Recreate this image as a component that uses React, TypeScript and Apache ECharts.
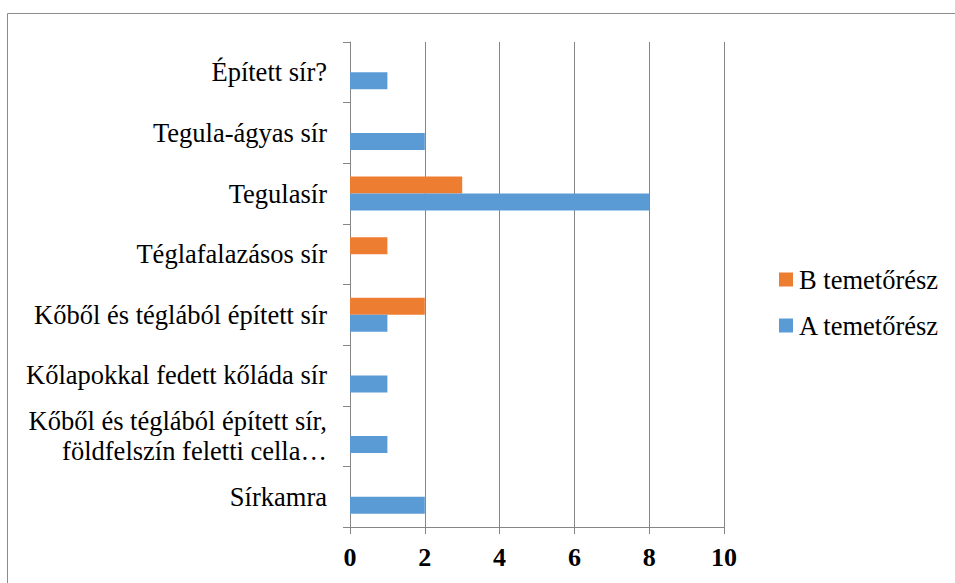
import React, { useEffect, useRef } from "react";
import * as echarts from "echarts";

const categories = [
  "Sírkamra",
  "Kőből és téglából épített sír,\nföldfelszín feletti cella…",
  "Kőlapokkal fedett kőláda sír",
  "Kőből és téglából épített sír",
  "Téglafalazásos sír",
  "Tegulasír",
  "Tegula-ágyas sír",
  "Épített sír?",
];
const seriesBName = "B temetőrész";
const seriesAName = "A temetőrész";
const valuesB = [0, 0, 0, 2, 1, 3, 0, 0];
const valuesA = [2, 1, 1, 1, 0, 8, 2, 1];
const xMin = 0;
const xMax = 10;
const xInterval = 2;

export default function App() {
  const ref = useRef<HTMLDivElement>(null);
  useEffect(() => {
    if (!ref.current) return;
    const chart = echarts.init(ref.current, null, { renderer: "svg" });
    const font = "Liberation Serif";
    const toNull = (arr: number[]) => arr.map((v) => (v === 0 ? null : v));
    chart.setOption({
      animation: false,
      backgroundColor: "#ffffff",
      textStyle: { fontFamily: font },
      grid: { left: 350, right: 231, top: 42, bottom: 56, containLabel: false },
      legend: {
        orient: "vertical",
        left: 779,
        top: 266,
        padding: 0,
        itemWidth: 14,
        itemHeight: 14,
        itemGap: 19,
        icon: "rect",
        textStyle: { fontFamily: font, fontSize: 26.5, color: "#000", padding: [0, 0, 0, 1] },
        data: [seriesBName, seriesAName],
      },
      xAxis: {
        type: "value",
        min: xMin,
        max: xMax,
        interval: xInterval,
        axisLine: { show: true, lineStyle: { color: "#868686", width: 1 } },
        axisTick: { show: true, length: 7, lineStyle: { color: "#868686" } },
        splitLine: { show: true, lineStyle: { color: "#868686", width: 1 } },
        axisLabel: {
          fontFamily: font,
          fontSize: 26,
          fontWeight: "bold",
          color: "#000",
          margin: 17,
        },
      },
      yAxis: {
        type: "category",
        data: categories,
        axisLine: { show: true, lineStyle: { color: "#868686", width: 1 } },
        axisTick: { show: true, length: 7, lineStyle: { color: "#868686" } },
        axisLabel: {
          fontFamily: font,
          fontSize: 26.5,
          color: "#000",
          margin: 23,
          lineHeight: 30,
          align: "right",
        },
      },
      graphic: [
        {
          type: "rect",
          shape: { x: 7.5, y: 13.5, width: 1000, height: 1000 },
          style: { fill: "none", stroke: "#8c8c8c", lineWidth: 1 },
          silent: true,
        },
      ],
      series: [
        {
          name: seriesBName,
          type: "bar",
          data: toNull(valuesB),
          barWidth: 17,
          barGap: "0%",
          itemStyle: { color: "#ED7D31" },
        },
        {
          name: seriesAName,
          type: "bar",
          data: toNull(valuesA),
          barWidth: 17,
          barGap: "0%",
          itemStyle: { color: "#5B9BD5" },
        },
      ],
    });
    return () => chart.dispose();
  }, []);
  return (
    <div
      ref={ref}
      style={{ position: "fixed", left: 0, top: 0, width: 955, height: 583 }}
    />
  );
}
